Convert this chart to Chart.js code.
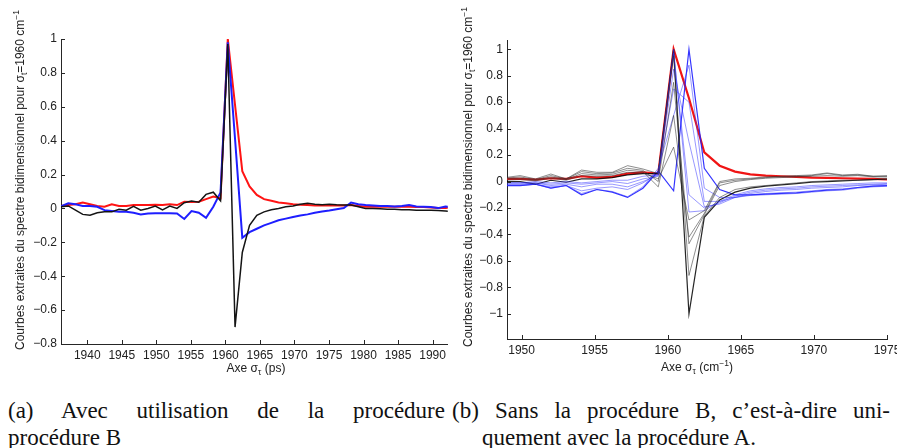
<!DOCTYPE html>
<html>
<head>
<meta charset="utf-8">
<script src="https://cdn.jsdelivr.net/npm/chart.js@4.4.1/dist/chart.umd.min.js"></script>
<style>
  body { margin: 0; background: #fff; }
  #page { position: relative; width: 897px; height: 448px; overflow: hidden; font-family: "Liberation Sans", Arial, sans-serif; color: #222; }
  canvas { position: absolute; top: 0; }
  .ytitle { position: absolute; font-size: 12px; white-space: nowrap; transform: translate(-50%, -50%) rotate(-90deg); }
  .xtitle { position: absolute; font-size: 12px; white-space: nowrap; transform: translate(-50%, -50%); }
  sub, sup { font-size: 8.5px; line-height: 0; }
  .caption { position: absolute; font-family: "Liberation Serif", serif; font-size: 23px; line-height: 27px; color: #111; }
  .just { text-align: justify; text-align-last: justify; }
</style>
</head>
<body>
<div id="page">
  <canvas id="chartA" width="450" height="380" style="left:0"></canvas>
  <canvas id="chartB" width="460" height="380" style="left:450px"></canvas>

  <div class="ytitle" style="left:20px; top:180px">Courbes extraites du spectre bidimensionnel pour σ<sub>t</sub>=1960 cm<sup>−1</sup></div>
  <div class="xtitle" style="left:256px; top:368px">Axe σ<sub>τ</sub> (ps)</div>
  <div class="ytitle" style="left:468px; top:177px">Courbes extraites du spectre bidimensionnel pour σ<sub>t</sub>=1960 cm<sup>−1</sup></div>
  <div class="xtitle" style="left:697px; top:367px">Axe σ<sub>τ</sub> (cm<sup>−1</sup>)</div>

  <div class="caption" style="left:8px; top:397px; width:437px">
    <div class="just">(a) Avec utilisation de la procédure</div>
    <div>procédure B</div>
  </div>
  <div class="caption" style="left:452px; top:397px; width:438px">
    <div class="just">(b) Sans la procédure B, c’est-à-dire uni-</div>
    <div style="padding-left:30px">quement avec la procédure A.</div>
  </div>
</div>

<script>
// (a) with procedure B
const xA = [1936.2, 1937.25, 1938.3, 1939.35, 1940.4, 1941.45, 1942.5, 1943.55, 1944.6, 1945.65,
  1946.7, 1947.75, 1948.8, 1949.85, 1950.9, 1951.95, 1953.0, 1954.05, 1955.1, 1956.15,
  1957.2, 1958.25, 1959.3, 1960.35, 1961.4, 1962.45, 1963.5, 1964.55, 1965.6, 1966.65,
  1967.7, 1968.75, 1969.8, 1970.85, 1971.9, 1972.95, 1974.0, 1975.05, 1976.1, 1977.15,
  1978.2, 1979.25, 1980.3, 1981.35, 1982.4, 1983.45, 1984.5, 1985.55, 1986.6, 1987.65,
  1988.7, 1989.75, 1990.8, 1991.85, 1992.9];
const redA = [0.015, 0.02, 0.025, 0.035, 0.025, 0.015, 0.01, 0.025, 0.015, 0.015,
  0.02, 0.02, 0.02, 0.022, 0.02, 0.025, 0.02, 0.04, 0.038, 0.04,
  0.055, 0.07, 0.06, 1.0, 0.61, 0.22, 0.13, 0.08, 0.055, 0.045,
  0.035, 0.03, 0.025, 0.022, 0.02, 0.018, 0.018, 0.018, 0.018, 0.018,
  0.02, 0.015, 0.01, 0.01, 0.01, 0.01, 0.01, 0.01, 0.01, 0.008,
  0.008, 0.005, 0.003, 0.003, 0.005];
const blueA = [0.012, 0.03, 0.025, 0.015, 0.015, 0.01, -0.01, -0.015, -0.02, -0.02,
  -0.025, -0.035, -0.03, -0.028, -0.028, -0.028, -0.03, -0.062, -0.015, -0.025,
  -0.055, 0.01, 0.095, 0.98, 0.41, -0.173, -0.14, -0.12, -0.1, -0.085,
  -0.07, -0.06, -0.05, -0.042, -0.035, -0.025, -0.018, -0.012, -0.005, 0.002,
  0.035, 0.025, 0.02, 0.018, 0.015, 0.015, 0.012, 0.015, 0.02, 0.012,
  0.01, 0.008, 0.002, 0.012, 0.005];
const blackA = [0.01, 0.015, -0.01, -0.035, -0.04, -0.025, -0.02, -0.02, -0.005, -0.01,
  0.012, -0.01, 0.0, 0.014, -0.008, 0.014, 0.0, 0.034, 0.044, 0.037,
  0.083, 0.096, 0.045, 0.97, -0.7, -0.26, -0.1, -0.04, -0.02, -0.008,
  0.0, 0.01, 0.014, 0.025, 0.03, 0.025, 0.022, 0.025, 0.022, 0.02,
  0.02, 0.01, 0.0, 0.0, -0.002, -0.005, -0.005, -0.008, -0.008, -0.01,
  -0.01, -0.01, -0.012, -0.015, -0.018];
const xTicksA = [1940, 1945, 1950, 1955, 1960, 1965, 1970, 1975, 1980, 1985, 1990];
const yTicksA = [-0.8, -0.6, -0.4, -0.2, 0, 0.2, 0.4, 0.6, 0.8, 1];

// (b) procedure A only
const xB = [1948.85, 1949.9, 1950.95, 1952.0, 1953.05, 1954.1, 1955.15, 1956.2, 1957.25, 1958.3,
  1959.35, 1960.4, 1961.45, 1962.5, 1963.55, 1964.6, 1965.65, 1966.7, 1967.75, 1968.8,
  1969.85, 1970.9, 1971.95, 1973.0, 1974.05, 1975.1, 1976.15];
const redB = [0.02, 0.02, 0.015, 0.025, 0.02, 0.04, 0.03, 0.035, 0.06, 0.07,
  0.06, 1.0, 0.63, 0.22, 0.12, 0.075, 0.055, 0.045, 0.04, 0.035,
  0.03, 0.028, 0.025, 0.022, 0.02, 0.015, 0.015];
const gray0 = [0.0, 0.0, -0.02, 0.01, -0.005, 0.02, 0.02, 0.03, 0.05, 0.06,
  0.06, 1.0, -1.0, -0.27, -0.14, -0.08, -0.05, -0.035, -0.025, -0.015,
  -0.005, 0.0, 0.005, 0.01, 0.015, 0.02, 0.02];
const gray1 = [0.03, 0.045, 0.02, 0.057, 0.02, 0.087, 0.07, 0.07, 0.12, 0.095,
  0.06, 0.95, -0.71, -0.26, -0.12, -0.06, -0.04, -0.03, -0.02, -0.01,
  0.0, 0.005, 0.01, 0.01, 0.015, 0.02, 0.02];
const gray2 = [0.025, 0.035, 0.015, 0.045, 0.02, 0.075, 0.06, 0.065, 0.1, 0.085,
  0.0, 0.75, -0.47, -0.25, -0.03, 0.0, 0.015, 0.025, 0.03, 0.035,
  0.04, 0.045, 0.04, 0.045, 0.035, 0.035, 0.03];
const gray3 = [0.02, 0.025, 0.01, 0.035, 0.015, 0.06, 0.05, 0.055, 0.085, 0.075,
  -0.04, 0.5, -0.42, -0.24, -0.01, 0.01, 0.02, 0.03, 0.035, 0.04,
  0.045, 0.06, 0.045, 0.05, 0.04, 0.04, 0.035];
const gray4 = [0.01, 0.015, 0.005, 0.025, 0.01, 0.045, 0.04, 0.045, 0.07, 0.065,
  0.02, 0.26, -0.29, -0.22, 0.0, 0.02, 0.025, 0.035, 0.04, 0.045,
  0.05, 0.065, 0.05, 0.055, 0.04, 0.045, 0.04];
const blue0 = [-0.03, -0.03, -0.02, -0.05, -0.03, -0.1, -0.06, -0.08, -0.12, -0.05,
  0.08, -0.07, 1.0, 0.1, -0.06, -0.1, -0.1, -0.095, -0.09, -0.085,
  -0.075, -0.065, -0.06, -0.045, -0.035, -0.03, -0.03];
const blue1 = [-0.03, -0.03, -0.02, -0.05, -0.03, -0.09, -0.06, -0.075, -0.115, -0.04,
  0.1, 0.5, 0.88, -0.05, -0.12, -0.12, -0.105, -0.1, -0.095, -0.09,
  -0.08, -0.07, -0.065, -0.05, -0.04, -0.035, -0.035];
const blue2 = [-0.02, -0.02, -0.02, -0.04, -0.03, -0.07, -0.05, -0.04, -0.06, -0.01,
  0.06, 0.7, 0.6, -0.15, -0.15, -0.12, -0.1, -0.09, -0.085, -0.08,
  -0.07, -0.06, -0.055, -0.045, -0.035, -0.03, -0.03];
const blue3 = [-0.02, -0.02, -0.01, -0.03, -0.02, -0.04, -0.02, -0.02, -0.04, 0.0,
  0.05, 0.85, 0.3, -0.19, -0.17, -0.12, -0.09, -0.075, -0.065, -0.06,
  -0.05, -0.045, -0.04, -0.03, -0.025, -0.02, -0.02];
const blue4 = [-0.01, -0.01, -0.01, -0.02, -0.01, -0.02, -0.01, 0.0, -0.015, 0.02,
  0.04, 0.97, -0.1, -0.2, -0.16, -0.11, -0.08, -0.065, -0.055, -0.05,
  -0.04, -0.035, -0.03, -0.025, -0.02, -0.015, -0.015];
const blue5 = [-0.01, -0.01, 0.0, -0.01, 0.0, -0.01, 0.0, 0.01, 0.01, 0.04,
  0.05, 1.0, -0.23, -0.22, -0.15, -0.1, -0.07, -0.055, -0.045, -0.04,
  -0.03, -0.025, -0.02, -0.015, -0.01, -0.01, -0.01];
const xTicksB = [1950, 1955, 1960, 1965, 1970, 1975];
const yTicksB = [-1, -0.8, -0.6, -0.4, -0.2, 0, 0.2, 0.4, 0.6, 0.8, 1];

const AXIS = '#262626';
const FONT = { family: '"Liberation Sans", Arial, sans-serif', size: 12 };

// matlab-style ticks pointing into the plot
const innerTicks = {
  id: 'innerTicks',
  afterDraw(chart) {
    const { ctx, chartArea, scales: { x, y } } = chart;
    ctx.save();
    ctx.strokeStyle = AXIS;
    ctx.lineWidth = 1;
    ctx.beginPath();
    y.ticks.forEach(t => {
      const py = Math.round(y.getPixelForValue(t.value)) + 0.5;
      ctx.moveTo(chartArea.left, py);
      ctx.lineTo(chartArea.left + 4, py);
    });
    x.ticks.forEach(t => {
      const px = Math.round(x.getPixelForValue(t.value)) + 0.5;
      ctx.moveTo(px, chartArea.bottom);
      ctx.lineTo(px, chartArea.bottom - 4);
    });
    ctx.stroke();
    ctx.restore();
  }
};

const fmt = v => (v < 0 ? '\u2212' : '') + Math.abs(Math.round(v * 10) / 10);

function line(xs, ys, color, width) {
  return {
    data: xs.map((x, i) => ({ x: x, y: ys[i] })),
    borderColor: color,
    borderWidth: width,
    pointRadius: 0,
    tension: 0,
    fill: false
  };
}

function drawChart(id, datasets, o) {
  new Chart(document.getElementById(id), {
    type: 'line',
    data: { datasets: datasets },
    options: {
      responsive: false,
      animation: false,
      events: [],
      layout: { padding: { left: 0, top: o.top, right: o.right, bottom: 0 } },
      plugins: { legend: { display: false }, tooltip: { enabled: false } },
      scales: {
        x: {
          type: 'linear', min: o.xMin, max: o.xMax,
          grid: { display: false, drawTicks: false },
          border: { color: AXIS, width: 1 },
          afterBuildTicks: s => { s.ticks = o.xTicks.map(v => ({ value: v })); },
          afterFit: s => { s.height = o.xHeight; },
          ticks: { autoSkip: false, maxRotation: 0, padding: 4, color: '#222', font: FONT, callback: v => String(v) }
        },
        y: {
          type: 'linear', min: o.yMin, max: o.yMax,
          grid: { display: false, drawTicks: false },
          border: { color: AXIS, width: 1 },
          afterBuildTicks: s => { s.ticks = o.yTicks.map(v => ({ value: v })); },
          afterFit: s => { s.width = o.yWidth; },
          ticks: { autoSkip: false, padding: 4, color: '#222', font: FONT, callback: v => fmt(v) }
        }
      }
    },
    plugins: [innerTicks]
  });
}

drawChart('chartA', [
  line(xA, blackA, 'rgb(20,20,20)', 1.5),
  line(xA, blueA, 'rgb(30,30,255)', 2),
  line(xA, redA, 'rgb(255,20,20)', 2)
], { top: 39, right: 2, xHeight: 36, yWidth: 61, xMin: 1936.2, xMax: 1992.2, yMin: -0.8, yMax: 1,
     xTicks: xTicksA, yTicks: yTicksA });

const thinGray = 'rgba(50,50,50,0.55)';
const thinBlue = 'rgba(50,50,255,0.5)';
drawChart('chartB', [
  line(xB, gray4, thinGray, 1),
  line(xB, gray3, thinGray, 1),
  line(xB, gray2, thinGray, 1),
  line(xB, gray1, thinGray, 1),
  line(xB, blue5, thinBlue, 1),
  line(xB, blue4, thinBlue, 1),
  line(xB, blue3, thinBlue, 1),
  line(xB, blue2, thinBlue, 1),
  line(xB, blue1, thinBlue, 1),
  line(xB, gray0, 'rgba(0,0,0,0.85)', 1.2),
  line(xB, blue0, 'rgba(30,30,255,0.9)', 1.2),
  line(xB, redB, 'rgb(240,20,20)', 2.2)
], { top: 40, right: 23, xHeight: 41, yWidth: 57, xMin: 1949, xMax: 1975, yMin: -1.19, yMax: 1.07,
     xTicks: xTicksB, yTicks: yTicksB });
</script>
</body>
</html>
